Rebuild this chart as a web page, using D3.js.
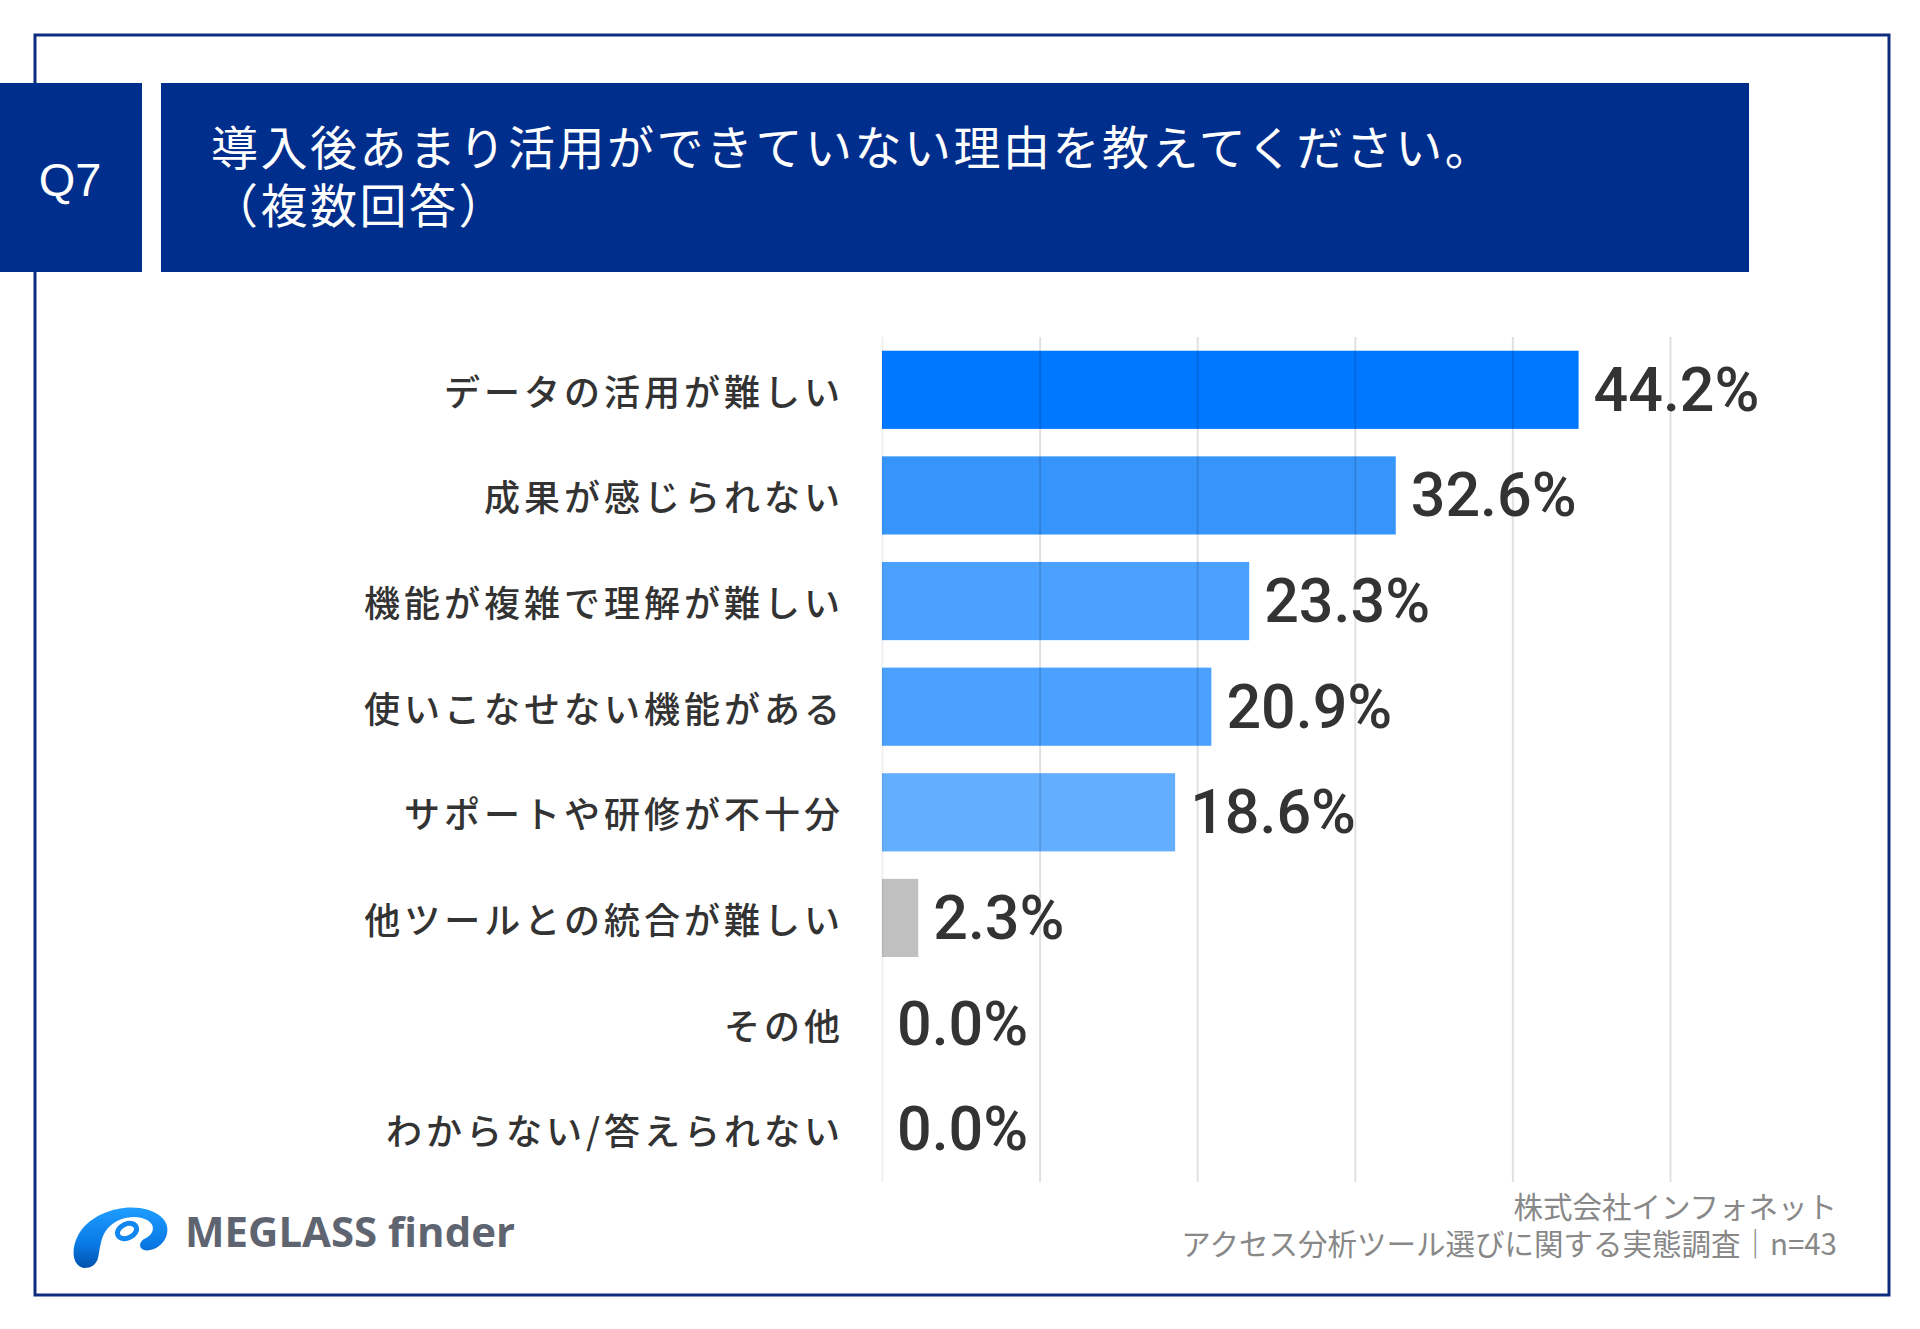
<!DOCTYPE html>
<html lang="ja">
<head>
<meta charset="utf-8">
<script src="https://cdn.jsdelivr.net/npm/d3@7"></script>
<style>
  html, body { margin: 0; padding: 0; background: #ffffff; }
  svg { display: block; }
</style>
</head>
<body>
<svg id="chart" width="1920" height="1329"></svg>
<script>
// ---------- data ----------
const questionLabel = "Q7";
const titleLines = ["導入後あまり活用ができていない理由を教えてください。", "（複数回答）"];
const categories = [
  "データの活用が難しい",
  "成果が感じられない",
  "機能が複雑で理解が難しい",
  "使いこなせない機能がある",
  "サポートや研修が不十分",
  "他ツールとの統合が難しい",
  "その他",
  "わからない/答えられない"
];
const values = [44.2, 32.6, 23.3, 20.9, 18.6, 2.3, 0.0, 0.0];
const barColors = ["#0078ff", "#3695fb", "#4aa1ff", "#4aa1ff", "#64aeff", "#c0c0c0", "#c0c0c0", "#c0c0c0"];
const gridTicks = [0, 10, 20, 30, 40, 50];
const footerLines = ["株式会社インフォネット", "アクセス分析ツール選びに関する実態調査｜n=43"];
const logoText = "MEGLASS finder";

// ---------- layout ----------
const svg = d3.select("#chart");
const navy = "#002e8c";

// frame
svg.append("rect")
  .attr("x", 35).attr("y", 35).attr("width", 1854).attr("height", 1260)
  .attr("fill", "#ffffff").attr("stroke", "#0d2c7e").attr("stroke-width", 3);

// header boxes
svg.append("rect").attr("x", 0).attr("y", 83).attr("width", 142).attr("height", 189).attr("fill", navy);
svg.append("rect").attr("x", 161).attr("y", 83).attr("width", 1588).attr("height", 189).attr("fill", navy);

svg.append("text")
  .attr("x", 70).attr("y", 179)
  .attr("text-anchor", "middle").attr("dominant-baseline", "central")
  .attr("fill", "#ffffff")
  .style("font-family", "'Liberation Sans', Arial, sans-serif")
  .style("font-size", "47px")
  .style("font-weight", "500")
  .text(questionLabel);

const title = svg.append("text")
  .attr("fill", "#ffffff")
  .style("font-family", "'Noto Sans CJK JP', sans-serif")
  .style("font-size", "47px")
  .style("letter-spacing", "2.5px");
title.selectAll("tspan").data(titleLines).enter().append("tspan")
  .attr("x", 211)
  .attr("y", (d, i) => 144 + i * 58)
  .attr("dominant-baseline", "central")
  .text(d => d);

// ---------- scales ----------
const x = d3.scaleLinear().domain([0, 50]).range([882, 1670]);
const y = d3.scaleBand().domain(categories).range([337, 1182]).paddingInner(0.26).paddingOuter(0.13);

// bars
svg.append("g").selectAll("rect").data(values).enter().append("rect")
  .attr("x", x(0))
  .attr("y", (d, i) => y(categories[i]))
  .attr("width", d => x(d) - x(0))
  .attr("height", y.bandwidth())
  .attr("fill", (d, i) => barColors[i]);

// grid lines via axis
const grid = svg.append("g")
  .attr("transform", "translate(0,1182)")
  .call(d3.axisBottom(x).tickValues(gridTicks).tickSize(-(1182 - 337)).tickFormat(""));
grid.select(".domain").remove();
grid.selectAll(".tick line")
  .attr("stroke", "#000")
  .attr("stroke-opacity", d => d === 0 ? 0.06 : 0.12)
  .attr("stroke-width", 2);

// category labels via axis
const ls = 4;
const yAxis = svg.append("g")
  .attr("transform", `translate(${x(0)},0)`)
  .call(d3.axisLeft(y).tickSize(0).tickPadding(x(0) - 840 - ls));
yAxis.select(".domain").remove();
yAxis.selectAll(".tick text")
  .attr("fill", "#333333")
  .attr("dy", null)
  .attr("dominant-baseline", "central")
  .style("font-family", "'Noto Sans CJK JP', sans-serif")
  .style("font-size", "36px")
  .style("font-weight", "500")
  .style("letter-spacing", ls + "px");

// value labels
svg.append("g").selectAll("text").data(values).enter().append("text")
  .attr("x", d => x(d) + 15)
  .attr("y", (d, i) => y(categories[i]) + y.bandwidth() / 2)
  .attr("dominant-baseline", "central")
  .attr("fill", "#333333")
  .style("font-family", "Roboto, sans-serif")
  .style("font-size", "61px")
  .style("font-weight", "500")
  .text(d => d.toFixed(1) + "%");

// footer
const footer = svg.append("text")
  .attr("text-anchor", "end")
  .attr("fill", "#888888")
  .style("font-family", "'Noto Sans CJK JP', sans-serif")
  .style("font-size", "29.5px");
footer.selectAll("tspan").data(footerLines).enter().append("tspan")
  .attr("x", 1837)
  .attr("y", (d, i) => 1205 + i * 37)
  .attr("dominant-baseline", "central")
  .text(d => d);

// logo
const defs = svg.append("defs");
const grad = defs.append("linearGradient").attr("id", "logoGrad")
  .attr("x1", 0).attr("y1", 0).attr("x2", 0).attr("y2", 1);
grad.append("stop").attr("offset", "0%").attr("stop-color", "#1f9dff");
grad.append("stop").attr("offset", "60%").attr("stop-color", "#0a7ae6");
grad.append("stop").attr("offset", "100%").attr("stop-color", "#0052ad");

const logo = svg.append("g");
logo.append("path")
  .attr("d", "M84 1268 C72 1266 70 1248 80 1232 C92 1214 118 1205 140 1208 C160 1211 170 1222 167 1234 C164 1246 152 1252 144 1250 C138 1248 139 1241 146 1238 C154 1234 156 1225 147 1220 C136 1214 118 1217 108 1228 C100 1237 100 1250 98 1258 C96 1265 91 1268 84 1268 Z")
  .attr("fill", "url(#logoGrad)");
logo.append("ellipse")
  .attr("cx", 127).attr("cy", 1231).attr("rx", 10).attr("ry", 7)
  .attr("transform", "rotate(-25,127,1231)")
  .attr("fill", "none").attr("stroke", "#1387f0").attr("stroke-width", 5);

logo.append("text")
  .attr("x", 185).attr("y", 1247)
  .attr("fill", "#5f6570")
  .attr("textLength", 330).attr("lengthAdjust", "spacingAndGlyphs")
  .style("font-family", "'Open Sans', sans-serif")
  .style("font-size", "41px")
  .style("font-weight", "700")
  .text(logoText);
</script>
</body>
</html>
